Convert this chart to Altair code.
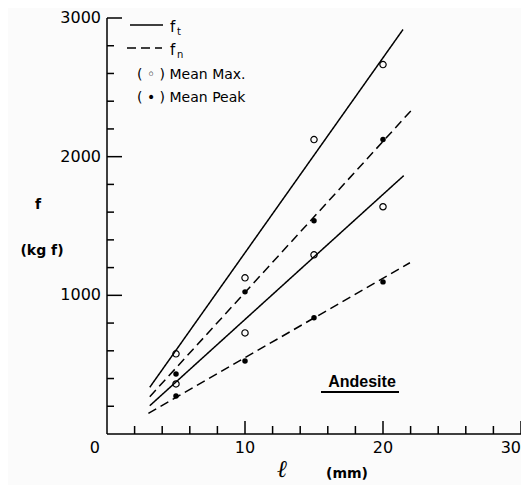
import altair as alt
import pandas as pd

# ---------------- data ----------------
x_mm = [5, 10, 15, 20]
max_upper = [578, 1126, 2123, 2664]
max_lower = [361, 729, 1292, 1639]
peak_upper = [433, 1025, 1538, 2123]
peak_lower = [274, 527, 838, 1097]

line_ids = ["ft_upper", "fn_upper", "ft_lower", "fn_lower"]
line_types = ["ft", "fn", "ft", "fn"]
line_x_start = [3.1, 3.1, 3.1, 3.0]
line_y_start = [337, 269, 204, 149]
line_x_end = [21.45, 22.1, 21.5, 21.95]
line_y_end = [2917, 2339, 1863, 1235]

x_center_labels = [10, 20]
x_right_labels = [30]
x_origin_label = [0]
x_minor_ticks = [2, 4, 6, 8, 12, 14, 16, 18, 22, 24, 26, 28]
x_major_ticks = [10, 20, 30]
y_label_values = [1000, 2000, 3000]
y_minor_ticks = [200, 400, 600, 800, 1200, 1400, 1600, 1800, 2200, 2400, 2600, 2800]
y_major_ticks = [1000, 2000, 3000]

# ---------------- tables ----------------
pts_max = pd.DataFrame({"x": x_mm * 2, "y": max_upper + max_lower})
pts_peak = pd.DataFrame({"x": x_mm * 2, "y": peak_upper + peak_lower})
lines = pd.DataFrame({
    "id": line_ids * 2,
    "type": line_types * 2,
    "x": line_x_start + line_x_end,
    "y": line_y_start + line_y_end,
})

W, H = 414, 416
X_MAX, Y_MAX = 30, 3000
FONT = "DejaVu Sans"
one = pd.DataFrame({"k": [0]})

# tick segments (tick length given in pixels, converted to data units)
tick_rows = []
for values, px in ((x_minor_ticks, 8), (x_major_ticks, 13)):
    for v in values:
        tick_rows.append({"tid": f"x{v}", "x": v, "y": 0})
        tick_rows.append({"tid": f"x{v}", "x": v, "y": px * Y_MAX / H})
for values, px in ((y_minor_ticks, 7), (y_major_ticks, 15)):
    for v in values:
        tick_rows.append({"tid": f"y{v}", "x": 0, "y": v})
        tick_rows.append({"tid": f"y{v}", "x": px * X_MAX / W, "y": v})
ticks_df = pd.DataFrame(tick_rows)

xs = alt.Scale(domain=[0, X_MAX], nice=False, zero=False)
ys = alt.Scale(domain=[0, Y_MAX], nice=False, zero=False)


def X(field):
    return alt.X(field, scale=xs, axis=None)


def Y(field):
    return alt.Y(field, scale=ys, axis=None)


line_layer = alt.Chart(lines).mark_line(color="black", strokeWidth=1.5).encode(
    x=X("x:Q"),
    y=Y("y:Q"),
    detail="id:N",
    strokeDash=alt.StrokeDash("type:N", scale=alt.Scale(domain=["ft", "fn"], range=[[1, 0], [9, 5]]),
                              legend=None),
)

tick_layer = alt.Chart(ticks_df).mark_line(color="black", strokeWidth=1.5).encode(
    x=X("x:Q"), y=Y("y:Q"), detail="tid:N")

open_layer = alt.Chart(pts_max).mark_point(shape="circle", filled=False, size=40, color="black",
                                           strokeWidth=1.2, opacity=1).encode(
    x=X("x:Q"), y=Y("y:Q"))

filled_layer = alt.Chart(pts_peak).mark_point(shape="circle", filled=True, size=30, color="black",
                                              opacity=1).encode(
    x=X("x:Q"), y=Y("y:Q"))


def x_labels(values, align, dx=0):
    df = pd.DataFrame({"lx": values})
    return alt.Chart(df).mark_text(font=FONT, fontSize=16, color="black", align=align,
                                   baseline="middle", dx=dx).encode(
        x=X("lx:Q"), y=alt.value(H + 14), text=alt.Text("lx:Q", format="d"))


def y_labels(values):
    df = pd.DataFrame({"ly": values})
    return alt.Chart(df).mark_text(font=FONT, fontSize=16, color="black", align="right",
                                   baseline="middle").encode(
        y=Y("ly:Q"), x=alt.value(-6), text=alt.Text("ly:Q", format="d"))


def txt(label, x, y, size=14, font=FONT, weight="normal", align="left", style="normal"):
    return alt.Chart(one).mark_text(text=label, font=font, fontSize=size, fontWeight=weight,
                                    align=align, baseline="middle", fontStyle=style,
                                    color="black").encode(x=alt.value(x), y=alt.value(y))


def rule(x1, x2, y, dash=None, width=1.5):
    kw = dict(color="black", strokeWidth=width)
    if dash:
        kw["strokeDash"] = dash
    return alt.Chart(one).mark_rule(**kw).encode(x=alt.value(x1), x2=alt.value(x2), y=alt.value(y))


def vrule(x, y1, y2, width=1.5):
    return alt.Chart(one).mark_rule(color="black", strokeWidth=width).encode(
        x=alt.value(x), y=alt.value(y1), y2=alt.value(y2))


frame = [
    rule(0, W, H),          # x axis line
    vrule(0, 0, H),         # y axis line
    x_labels(x_center_labels, "center"),
    x_labels(x_right_labels, "right"),
    x_labels(x_origin_label, "right", dx=-7),
    y_labels(y_label_values),
]

annotations = [
    rule(23, 56, 7),
    rule(20, 55, 30, dash=[9, 5]),
    txt("f", 63, 9, size=15),
    txt("t", 70, 14, size=10),
    txt("f", 63, 32, size=15),
    txt("n", 70, 37, size=10),
    txt("( ◦ ) Mean Max.", 30, 57, size=14),
    txt("( • ) Mean Peak", 30, 80, size=14),
    txt("f", -69, 187, size=14, weight="bold", align="center"),
    txt("(kg f)", -65, 233, size=14, weight="bold", align="center"),
    txt("ℓ", 175, 452, size=24, font="DejaVu Serif", style="italic", align="center"),
    txt("(mm)", 240, 456, size=14, weight="bold", align="center"),
    txt("Andesite", 255, 364, size=16, font="Liberation Sans", weight="bold", align="center"),
    rule(214, 292, 374, width=2),
]

chart = alt.layer(
    line_layer, tick_layer, open_layer, filled_layer, *frame, *annotations
).properties(
    width=W, height=H,
    autosize=alt.AutoSizeParams(type="none"),
    padding={"left": 99, "top": 10, "right": 0, "bottom": 51},
    background="#fbfbfb",
).configure_view(stroke=None)

chart.save("out.html", embed_options={"renderer": "svg", "actions": False})
